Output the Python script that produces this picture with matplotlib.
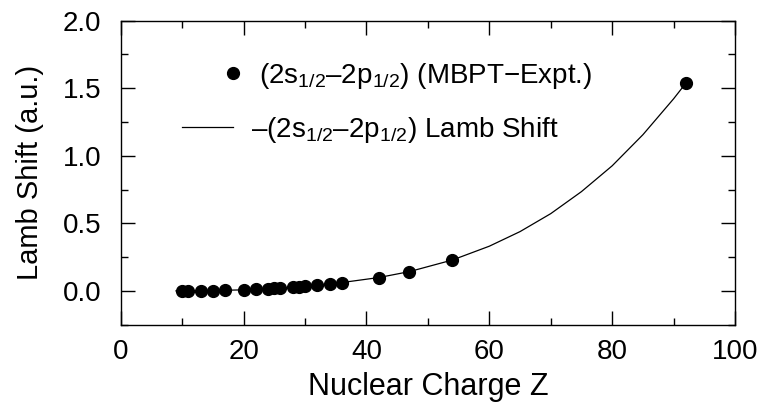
import matplotlib
matplotlib.use("Agg")
import matplotlib.pyplot as plt
from matplotlib.lines import Line2D

plt.rcParams["font.family"] = ["Liberation Sans", "DejaVu Sans"]
plt.rcParams["mathtext.fontset"] = "custom"
plt.rcParams["mathtext.rm"] = "Liberation Sans"
plt.rcParams["mathtext.it"] = "Liberation Sans:italic"

# MBPT - experiment differences (a.u.)
z_points = [10, 11, 13, 15, 17, 20, 22, 24, 25, 26, 28, 29, 30, 32, 34, 36, 42, 47, 54, 92]
shift_points = [0.0007, 0.001, 0.002, 0.003, 0.005, 0.008, 0.011, 0.015, 0.018, 0.020,
                0.026, 0.030, 0.035, 0.041, 0.050, 0.062, 0.099, 0.143, 0.229, 1.538]

# Lamb shift curve
z_curve = [9, 10, 15, 20, 25, 30, 36, 42, 47, 54, 60, 65, 70, 75, 80, 85, 90, 92]
shift_curve = [0.0005, 0.0007, 0.003, 0.008, 0.018, 0.034, 0.062, 0.099, 0.143, 0.229,
               0.331, 0.439, 0.572, 0.735, 0.926, 1.156, 1.422, 1.538]

label_pts = r"(2s$_{\mathregular{1/2}}$–2p$_{\mathregular{1/2}}$) (MBPT−Expt.)"
label_line = r"–(2s$_{\mathregular{1/2}}$–2p$_{\mathregular{1/2}}$) Lamb Shift"

fig = plt.figure(figsize=(7.62, 4.07), dpi=100)
ax = fig.add_axes([0.1584, 0.2022, 0.8062, 0.7469])

ax.plot(z_curve, shift_curve, color="black", lw=0.9)
ax.plot(z_points, shift_points, "o", color="black", ms=8.5, ls="none")

ax.set_xlim(0, 100)
ax.set_ylim(-0.25, 2.0)
ax.set_xticks([0, 20, 40, 60, 80, 100])
ax.set_xticks([10, 30, 50, 70, 90], minor=True)
ax.set_yticks([0.0, 0.5, 1.0, 1.5, 2.0])
ax.set_yticks([-0.25, 0.25, 0.75, 1.25, 1.75], minor=True)
ax.set_yticklabels(["0.0", "0.5", "1.0", "1.5", "2.0"])

ax.tick_params(which="both", direction="in", top=True, right=True, labelsize=20, width=1.0)
ax.tick_params(which="major", length=10)
ax.tick_params(which="minor", length=5)
ax.tick_params(axis="y", pad=14)
ax.tick_params(axis="x", pad=10)
for sp in ax.spines.values():
    sp.set_linewidth(1.0)

ax.set_xlabel("Nuclear Charge Z", fontsize=22, labelpad=5)
ax.set_ylabel("Lamb Shift (a.u.)", fontsize=21)
ax.yaxis.set_label_coords(-0.125, 0.5)

h_pts = Line2D([], [], marker="o", color="black", ls="none", ms=8.5)
h_line = Line2D([], [], color="black", lw=0.9)

leg1 = fig.legend([h_pts], [label_pts], loc="center left", bbox_to_anchor=(0.2922, 0.8133),
                  frameon=False, fontsize=20, handlelength=0.75, handletextpad=0.55,
                  borderpad=0, borderaxespad=0)
leg2 = fig.legend([h_line], [label_line], loc="center left", bbox_to_anchor=(0.2385, 0.6806),
                  frameon=False, fontsize=20, handlelength=1.85, handletextpad=0.65,
                  borderpad=0, borderaxespad=0)

fig.savefig("out.png", dpi=100)
